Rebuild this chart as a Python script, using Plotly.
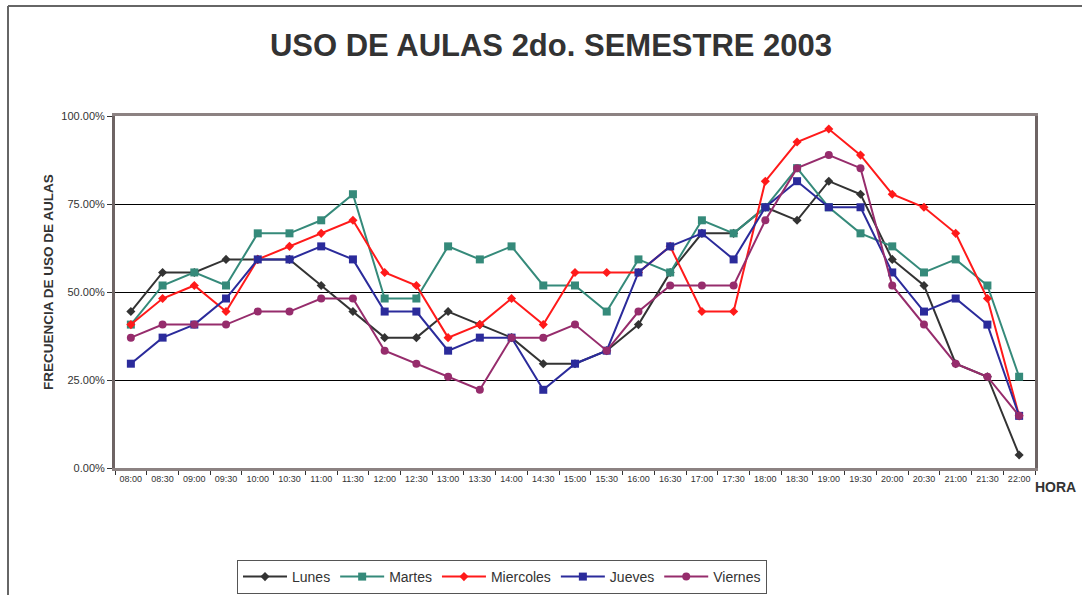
import plotly.graph_objects as go

horas = ["08:00","08:30","09:00","09:30","10:00","10:30","11:00","11:30","12:00","12:30",
         "13:00","13:30","14:00","14:30","15:00","15:30","16:00","16:30","17:00","17:30",
         "18:00","18:30","19:00","19:30","20:00","20:30","21:00","21:30","22:00"]

# counts of classrooms in use out of 27
total_aulas = 27
lunes     = [12,15,15,16,16,16,14,12,10,10,12,11,10,8,8,9,11,15,18,18,20,19,22,21,16,14,8,7,1]
martes    = [11,14,15,14,18,18,19,21,13,13,17,16,17,14,14,12,16,15,19,18,20,23,20,18,17,15,16,14,7]
miercoles = [11,13,14,12,16,17,18,19,15,14,10,11,13,11,15,15,15,17,12,12,22,25,26,24,21,20,18,13,4]
jueves    = [8,10,11,13,16,16,17,16,12,12,9,10,10,6,8,9,15,17,18,16,20,22,20,20,15,12,13,11,4]
viernes   = [10,11,11,11,12,12,13,13,9,8,7,6,10,10,11,9,12,14,14,14,19,23,24,23,14,11,8,7,4]

series = [
    ("Lunes", lunes, "#333333", "diamond", 7),
    ("Martes", martes, "#358a7a", "square", 8),
    ("Miercoles", miercoles, "#ff1a1a", "diamond", 7),
    ("Jueves", jueves, "#2b2b9b", "square", 8),
    ("Viernes", viernes, "#962c6c", "circle", 8),
]

fig = go.Figure()
for name, vals, color, sym, size in series:
    fig.add_trace(go.Scatter(
        x=horas, y=[v / total_aulas for v in vals], name=name, mode="lines+markers",
        line=dict(color=color, width=2),
        marker=dict(color=color, symbol=sym, size=size),
    ))

L, R, T, B = 115, 1035, 116, 468
W, H = 1082, 595
def px(x): return (x - L) / (R - L)
def py(y): return (B - y) / (B - T)

fig.update_layout(
    width=W, height=H,
    margin=dict(l=L, r=W - R, t=T, b=H - B, pad=0, autoexpand=False),
    paper_bgcolor="white", plot_bgcolor="white",
    font=dict(family="Liberation Sans, Arial, sans-serif", color="#333333"),
    showlegend=True,
    legend=dict(orientation="h", x=px(502), y=py(577), xanchor="center", yanchor="middle",
                bordercolor="#555555", borderwidth=1, font=dict(size=14, color="#333333"),
                itemwidth=44, tracegroupgap=0),
    title=dict(text="<b>USO DE AULAS 2do. SEMESTRE 2003</b>", xref="container", x=551 / W,
               xanchor="center", yref="container", y=1 - 45 / H, yanchor="middle",
               font=dict(size=31, color="#333333")),
    xaxis=dict(type="category", range=[-0.5, len(horas) - 0.5], tickson="boundaries",
               ticks="outside", ticklen=4, tickcolor="#333333",
               tickfont=dict(size=9, color="#333333"),
               showline=True, linecolor="#8c8282", linewidth=3, mirror=True,
               showgrid=False, zeroline=False),
    yaxis=dict(range=[0, 1], dtick=0.25, tickformat=".2%", ticks="outside", ticklen=5,
               tickcolor="#333333", tickfont=dict(size=11, color="#333333"),
               showline=True, linecolor="#6e6464", linewidth=3, mirror=True,
               showgrid=True, gridcolor="#000000", gridwidth=1, zeroline=False),
    annotations=[
        dict(text="<b>HORA</b>", x=px(1078), y=py(487), xref="paper", yref="paper",
             showarrow=False, font=dict(size=14, color="#333333"), xanchor="right", yanchor="middle"),
        dict(text="<b>FRECUENCIA DE USO DE AULAS</b>", x=px(48), y=py(282), xref="paper", yref="paper",
             showarrow=False, textangle=-90, font=dict(size=13.5, color="#333333"),
             xanchor="center", yanchor="middle"),
    ],
    shapes=[
        dict(type="line", xref="paper", yref="paper", x0=px(8), x1=px(1082), y0=py(6), y1=py(6),
             line=dict(color="#666666", width=2)),
        dict(type="line", xref="paper", yref="paper", x0=px(8), x1=px(8), y0=py(6), y1=py(595),
             line=dict(color="#666666", width=2)),
    ],
)

fig.write_html("out.html", config={"displayModeBar": False},
               post_script="document.body.style.margin='0';document.body.style.overflow='hidden';")
